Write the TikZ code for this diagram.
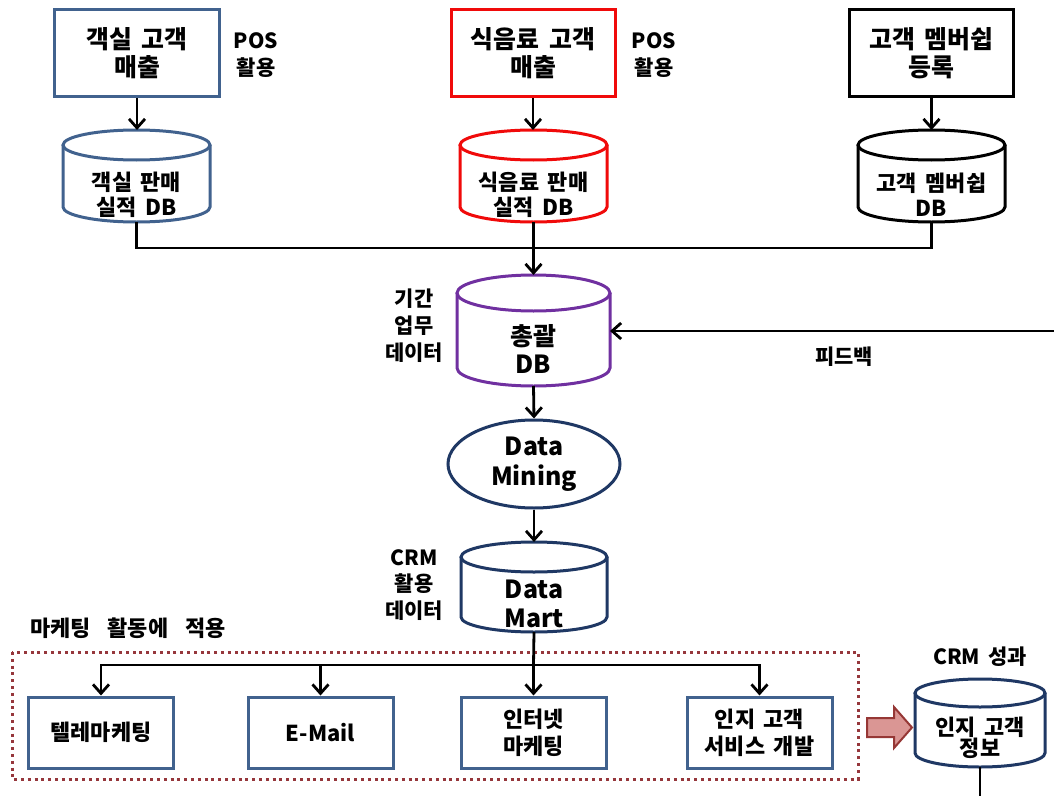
\documentclass[tikz,border=0pt]{standalone}
\usepackage{fontspec}
\setmainfont{Noto Sans CJK KR}[WordSpace=1.7]
\usetikzlibrary{arrows.meta,shapes.geometric}
\definecolor{bluegray}{RGB}{65,98,142}
\definecolor{redc}{RGB}{240,10,10}
\definecolor{purplec}{RGB}{112,48,160}
\definecolor{navy}{RGB}{31,56,100}
\definecolor{dotred}{RGB}{150,55,60}
\definecolor{pinkfill}{RGB}{218,150,148}
\definecolor{pinkline}{RGB}{150,55,53}
\tikzset{
  every node/.style={font=\bfseries},
  bigbox/.style={draw, line width=3bp, minimum width=164bp, minimum height=87bp, align=center, inner sep=0,
    font=\bfseries\fontsize{25}{28}\selectfont},
  smallbox/.style={draw=bluegray, line width=3bp, minimum width=145bp, minimum height=71bp, align=center, inner sep=0,
    font=\bfseries\fontsize{22}{27}\selectfont},
  lbl/.style={align=center, inner sep=0, font=\bfseries\fontsize{21}{27}\selectfont},
  cyltext/.style={align=center, inner sep=0, font=\bfseries\fontsize{22}{25}\selectfont},
  bigtext/.style={align=center, inner sep=0, font=\bfseries\fontsize{25}{29}\selectfont},
  cylline/.style={line width=3bp},
  conn/.style={line width=2.8bp, draw=black},
  tip/.style={-{Straight Barb[length=9bp,width=16bp]}},
}
\newcommand\cyl[7]{%
  \node[inner sep=0, outer sep=0, minimum width={(#4-#2)*1bp}, minimum height={(#5-#3)*1bp}] (#1) at ({(#2+#4)/2},{(#3+#5)/2}) {};
  \draw[cylline, draw=#7, fill=white] (#2,{#3+#6}) -- (#2,{#5-#6}) arc [start angle=180, end angle=360, x radius={(#4-#2)/2*1bp}, y radius={#6*1bp}] -- (#4,{#3+#6});
  \draw[cylline, draw=#7] ({(#2+#4)/2},{#3+#6}) ellipse [x radius={(#4-#2)/2*1bp}, y radius={#6*1bp}];
}
\begin{document}
\begin{tikzpicture}[x=1bp,y=-1bp]
\useasboundingbox (0,0) rectangle (1054,796);
\fill[white] (0,0) rectangle (1054,796);

% top boxes
\node[bigbox, draw=bluegray] (b1) at (137,53) {객실 고객\\매출};
\node[bigbox, draw=redc] (b2) at (533,53) {식음료 고객\\매출};
\node[bigbox, draw=black] (b3) at (931.5,53) {고객 멤버쉽\\등록};
\node[lbl] (p1) at (256,55) {POS\\활용};
\node[lbl] (p2) at (654,55) {POS\\활용};

% source cylinders
\cyl{c1}{63}{130}{210}{222}{15}{bluegray}
\cyl{c2}{460}{130}{607}{222}{15}{redc}
\cyl{c3}{858}{130}{1005}{222}{15}{black}
\node[cyltext] (c1t) at (136.5,195) {객실 판매\\실적 DB};
\node[cyltext] (c2t) at (533.5,195) {식음료 판매\\실적 DB};
\node[cyltext] (c3t) at (931.5,195) {고객 멤버쉽\\DB};

\draw[conn,tip] (b1.south) -- (b1.south |- c1.north);
\draw[conn,tip] (b2.south) -- (b2.south |- c2.north);
\draw[conn,tip] (b3.south) -- (b3.south |- c3.north);

% integrated DB
\cyl{db}{457}{275}{610}{386}{18}{purplec}
\node[bigtext] (dbt) at (533.5,349) {총괄\\DB};
\node[lbl] (dbl) at (414,326) {기간\\업무\\데이터};
\coordinate (j1) at (533.5,248);
\draw[conn] (c1.south) |- (j1);
\draw[conn] (c3.south) |- (j1);
\draw[conn,tip] (c2.south) -- (db.north);

% feedback
\coordinate (fbin) at (1054,331);
\draw[conn,tip] (fbin) -- (fbin -| db.east);
\node[lbl] (fbl) at (844,357) {피드백};

% data mining
\node[ellipse, draw=navy, line width=3bp, minimum width=172bp, minimum height=88bp, inner sep=0,
  align=center, font=\bfseries\fontsize{25}{30}\selectfont] (dmn) at (534,464) {Data\\Mining};
\draw[conn,tip] (db.south) -- (dmn.north);

% data mart
\cyl{mart}{461}{542}{607}{632}{15}{navy}
\node[bigtext] (martt) at (534,604) {Data\\Mart};
\node[lbl] (martl) at (414,585) {CRM\\활용\\데이터};
\draw[conn,tip] (dmn.south) -- (mart.north);

% marketing area
\node[lbl, anchor=west, font=\bfseries\fontsize{22}{27}\selectfont] (mk) at (30,628) {마케팅\ \ 활동에\ \ 적용};
\draw[draw=dotred, line width=3bp, dash pattern=on 3bp off 3.8bp] (12,652) rectangle (858,779);

\node[smallbox] (tm) at (101,732.5) {텔레마케팅};
\node[smallbox] (em) at (320.5,732.5) {E-Mail};
\node[smallbox] (inet) at (533.5,732.5) {인터넷\\마케팅};
\node[smallbox] (cs) at (759.5,732.5) {인지 고객\\서비스 개발};

\coordinate (br) at (533.5,665);
\draw[conn] (mart.south) -- (br);
\draw[conn,tip] (br) -| (tm.north);
\draw[conn,tip] (br) -| (em.north);
\draw[conn,tip] (br) -| (cs.north);
\draw[conn,tip] (br) -- (inet.north);

% result arrow
\draw[draw=pinkline, fill=pinkfill, line width=2bp, line join=miter]
  (867,718) -- (894,718) -- (894,707) -- (912,727.5) -- (894,748) -- (894,737) -- (867,737) -- cycle;

% CRM result
\node[lbl] (crml) at (980,657) {CRM 성과};
\cyl{crm}{915}{679}{1045}{767}{14}{navy}
\node[cyltext, font=\bfseries\fontsize{22}{21}\selectfont] (crmt) at (980,737.5) {인지 고객\\정보};
\coordinate (crmout) at (980,796);
\draw[conn] (crm.south) -- (crmout);
\end{tikzpicture}
\end{document}
